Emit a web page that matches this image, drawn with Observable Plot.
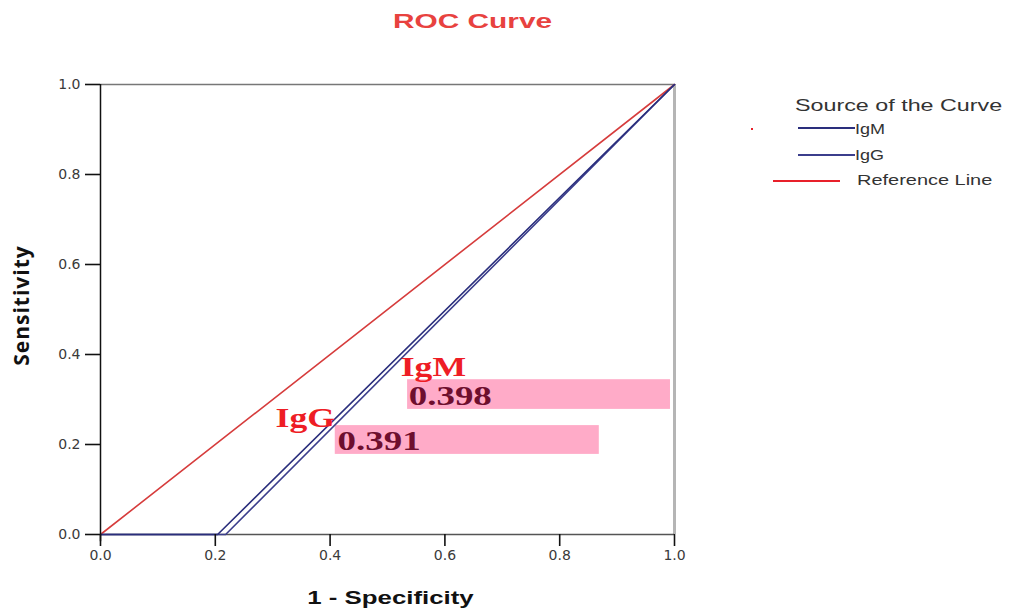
<!DOCTYPE html>
<html>
<head>
<meta charset="utf-8">
<script src="https://cdn.jsdelivr.net/npm/d3@7"></script>
<script src="https://cdn.jsdelivr.net/npm/@observablehq/plot@0.6"></script>
<style>
  body { margin: 0; background: #fff; }
  #wrap { position: relative; width: 1011px; height: 608px; overflow: hidden; background: #fff; }
  #title { position: relative; height: 40px; }
  .abs { position: absolute; white-space: nowrap; line-height: normal; }
  .lg { font-family: "Liberation Sans", Arial, sans-serif; color: #333; }
  .ln { position: absolute; height: 0; }
</style>
</head>
<body>
<div id="wrap">
  <div id="title"></div>
  <div id="chart"></div>
  <div id="legend"></div>
</div>
<script>
// ---- data ----
const seriesNames = ["IgM", "IgG"];
const aucValues = [0.398, 0.391];
const fprIgM = [0, 0.204, 1];
const tprIgM = [0, 0, 1];
const fprIgG = [0, 0.218, 1];
const tprIgG = [0, 0, 1];
const refX = [0, 1];
const refY = [0, 1];
const tickValues = [0, 0.2, 0.4, 0.6, 0.8, 1.0];
const titleText = "ROC Curve";
const xLabel = "1 - Specificity";
const yLabel = "Sensitivity";
const legendTitle = "Source of the Curve";
const refName = "Reference Line";

// ---- styles ----
const colIgM = "#2a2e7c";
const colIgG = "#3b3e8c";
const colRef = "#d63c3c";
const pink = "#ffabc8";

const curveIgM = fprIgM.map((x, i) => ({x, y: tprIgM[i]}));
const curveIgG = fprIgG.map((x, i) => ({x, y: tprIgG[i]}));
const refLine = refX.map((x, i) => ({x, y: refY[i]}));

// annotation boxes / labels (placement only)
const boxes = [
  {x1: 0.535, x2: 0.993, y1: 0.278, y2: 0.344},
  {x1: 0.409, x2: 0.869, y1: 0.178, y2: 0.242}
];
const nameLabels = [
  {x: 0.523, y: 0.353, text: seriesNames[0]},
  {x: 0.305, y: 0.238, text: seriesNames[1]}
];
const aucLabels = [
  {x: 0.537, y: 0.287, text: aucValues[0].toFixed(3)},
  {x: 0.413, y: 0.187, text: aucValues[1].toFixed(3)}
];

const SERIF = "Liberation Serif, Times New Roman, serif";
const WIDE = "Liberation Sans, Arial, sans-serif";
const OPEN = "Open Sans, sans-serif";
const xTickLen = 12 / 450;   // 12px tick, in y units
const yTickLen = 15 / 574;   // 15px tick, in x units

const svg = Plot.plot({
  width: 1011,
  height: 568,
  marginTop: 44,
  marginBottom: 74,
  marginLeft: 100,
  marginRight: 337,
  x: {domain: [0, 1], ticks: tickValues, tickFormat: ".1f", tickSize: 0, tickPadding: 16, label: null},
  y: {domain: [0, 1], ticks: tickValues, tickFormat: ".1f", tickSize: 0, tickPadding: 20, label: null},
  style: {background: "white", overflow: "visible", fontFamily: "DejaVu Sans, sans-serif", fontSize: "14px", color: "#3a3a3a"},
  marks: [
    Plot.rect(boxes, {x1: "x1", x2: "x2", y1: "y1", y2: "y2", fill: pink}),
    Plot.ruleY([1], {stroke: "#777", strokeWidth: 1.5}),
    Plot.ruleX([1], {stroke: "#b5b5b5", strokeWidth: 3}),
    Plot.ruleY([0], {stroke: "#555", strokeWidth: 1.5}),
    Plot.line(refLine, {x: "x", y: "y", stroke: colRef, strokeWidth: 1.6}),
    Plot.line(curveIgG, {x: "x", y: "y", stroke: colIgG, strokeWidth: 1.6}),
    Plot.line(curveIgM, {x: "x", y: "y", stroke: colIgM, strokeWidth: 1.6}),
    Plot.text(nameLabels, {x: "x", y: "y", text: "text", textAnchor: "start", lineAnchor: "bottom",
      fontSize: 27, fontWeight: "bold", fontFamily: SERIF, fill: "#ee1d25"}),
    Plot.text(aucLabels, {x: "x", y: "y", text: "text", textAnchor: "start", lineAnchor: "bottom",
      fontSize: 28, fontWeight: "bold", fontFamily: SERIF, fill: "#6e0e2e"}),
    Plot.text([xLabel], {frameAnchor: "bottom", dx: 3, dy: 63, textAnchor: "middle", lineAnchor: "middle", fontSize: 19,
      fontWeight: "bold", fontFamily: WIDE, fill: "#111"}),
    Plot.text([yLabel], {frameAnchor: "left", dx: -78, dy: -4, rotate: -90, textAnchor: "middle", lineAnchor: "middle",
      fontSize: 21, fontWeight: "bold", fontFamily: OPEN, fill: "#111"}),
    Plot.ruleX([0], {stroke: "#111", strokeWidth: 1.5, y1: -0.016, y2: 1}),
    Plot.ruleX(tickValues, {y1: 0, y2: -xTickLen, stroke: "#111", strokeWidth: 1.6}),
    Plot.ruleY(tickValues, {x1: -yTickLen, x2: 0, stroke: "#111", strokeWidth: 1.6})
  ]
});

// horizontal stretch of the reference's text
function stretch(sel, s) {
  sel.each(function() {
    const t = d3.select(this);
    let tr = t.attr("transform");
    if (!tr) {
      tr = `translate(${t.attr("x") || 0},${t.attr("y") || 0})`;
      t.attr("x", null).attr("y", null);
    }
    t.attr("transform", tr + ` scale(${s},1)`);
  });
}
const root = d3.select(svg);
stretch(root.selectAll(`g[font-family="${SERIF}"] text`), 1.32);
stretch(root.selectAll(`g[font-family="${WIDE}"] text`), 1.36);
root.selectAll(`g[font-family="${OPEN}"] text`).attr("letter-spacing", "1px");

document.getElementById("chart").appendChild(svg);

// title
const title = document.getElementById("title");
const ts = document.createElement("span");
ts.className = "abs";
ts.textContent = titleText;
ts.style.cssText = "left:393px; top:9px; font: bold 21px 'Liberation Sans', Arial, sans-serif; color:#e8423f; transform: scaleX(1.42); transform-origin: 0 0;";
title.appendChild(ts);

// legend
const lg = document.getElementById("legend");
function addText(txt, left, top, size, sx) {
  const s = document.createElement("span");
  s.className = "abs lg";
  s.textContent = txt;
  s.style.left = left + "px";
  s.style.top = top + "px";
  s.style.fontSize = size + "px";
  s.style.transform = `scaleX(${sx})`;
  s.style.transformOrigin = "0 0";
  lg.appendChild(s);
}
function addLine(left, top, w, color) {
  const d = document.createElement("div");
  d.className = "ln";
  d.style.cssText = `left:${left}px; top:${top}px; width:${w}px; border-top:2px solid ${color};`;
  lg.appendChild(d);
}
addText(legendTitle, 795, 96, 17, 1.37);
addLine(798, 127, 57, colIgM);
addText(seriesNames[0], 855, 120, 15, 1.2);
addLine(798, 154, 57, colIgG);
addText(seriesNames[1], 855, 146, 15, 1.2);
addLine(773, 180, 67, "#e8202a");
addText(refName, 857, 171, 15, 1.33);
const dot = document.createElement("div");
dot.style.cssText = "position:absolute; left:751px; top:128px; width:2px; height:2px; background:#e8202a;";
lg.appendChild(dot);
</script>
</body>
</html>
